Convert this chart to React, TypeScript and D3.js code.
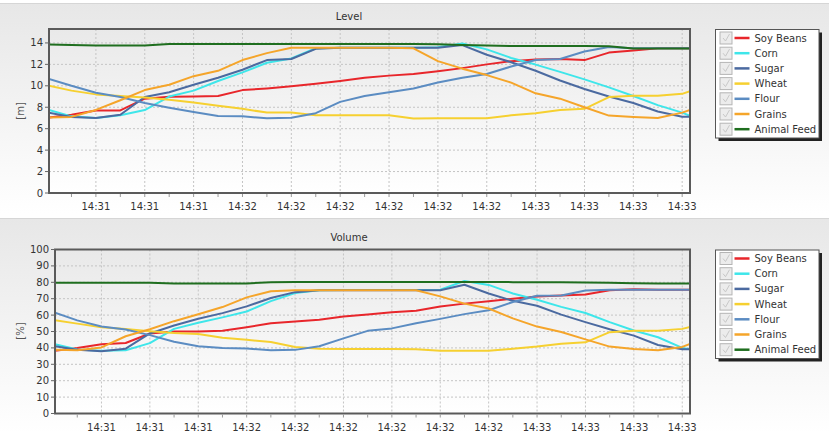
import React from 'react';
import * as d3 from 'd3';

// time samples, seconds after 14:31:00
const seconds = [20.4, 25, 30, 35, 40, 45, 50, 55, 60, 65, 70, 75, 80, 85, 90, 95, 100, 105, 110, 115, 120, 125, 130, 135, 140, 145, 150, 151.6];

const seriesNames = ['Soy Beans', 'Corn', 'Sugar', 'Wheat', 'Flour', 'Grains', 'Animal Feed'];
const seriesColors = ['#e8262b', '#3ee6ea', '#4b6aa0', '#f6d030', '#5b8cc2', '#f5a52a', '#1f6e1f'];

// Level [m]
const levelSoyBeans = [7.05, 7.3, 7.7, 7.7, 8.8, 8.98, 9.0, 9.05, 9.6, 9.75, 9.95, 10.2, 10.45, 10.75, 10.95, 11.1, 11.35, 11.65, 12.0, 12.3, 12.45, 12.5, 12.4, 13.1, 13.3, 13.5, 13.5, 13.5];
const levelCorn = [7.74, 7.15, 7.0, 7.25, 7.74, 9.0, 9.55, 10.45, 11.25, 12.15, 12.55, 13.5, 13.55, 13.55, 13.55, 13.55, 13.6, 13.95, 13.4, 12.6, 11.98, 11.3, 10.6, 9.85, 9.05, 8.2, 7.5, 7.21];
const levelSugar = [7.5, 7.1, 7.0, 7.3, 8.95, 9.4, 10.1, 10.75, 11.5, 12.4, 12.5, 13.45, 13.55, 13.55, 13.55, 13.55, 13.55, 13.8, 12.9, 12.2, 11.4, 10.5, 9.7, 9.0, 8.4, 7.6, 7.12, 7.12];
const levelWheat = [10.0, 9.55, 9.2, 9.05, 8.9, 8.7, 8.45, 8.15, 7.85, 7.5, 7.5, 7.25, 7.25, 7.25, 7.25, 6.95, 6.97, 6.97, 6.97, 7.25, 7.45, 7.75, 7.85, 8.95, 9.07, 9.07, 9.25, 9.5];
const levelFlour = [10.65, 10.0, 9.35, 8.95, 8.4, 7.95, 7.55, 7.18, 7.15, 6.97, 7.03, 7.45, 8.5, 9.05, 9.4, 9.75, 10.3, 10.75, 11.1, 11.8, 12.4, 12.5, 13.2, 13.62, 13.5, 13.5, 13.5, 13.5];
const levelGrains = [7.05, 7.1, 7.75, 8.65, 9.6, 10.1, 10.9, 11.4, 12.4, 13.05, 13.55, 13.55, 13.55, 13.55, 13.55, 13.5, 12.3, 11.6, 11.0, 10.3, 9.3, 8.8, 8.0, 7.22, 7.1, 7.0, 7.5, 7.74];
const levelAnimalFeed = [13.85, 13.8, 13.75, 13.75, 13.75, 13.9, 13.9, 13.9, 13.9, 13.9, 13.9, 13.9, 13.9, 13.9, 13.9, 13.9, 13.88, 13.8, 13.75, 13.72, 13.72, 13.72, 13.72, 13.7, 13.48, 13.48, 13.48, 13.48];

// Volume [%]
const volumeSoyBeans = [38.2, 39.9, 42.2, 43.0, 48.8, 50.0, 50.0, 50.5, 52.6, 55.0, 56.1, 57.2, 59.2, 60.4, 61.8, 62.6, 65.3, 67.0, 68.4, 70.0, 71.4, 72.0, 72.5, 75.1, 75.8, 75.5, 75.5, 75.5];
const volumeCorn = [42.3, 39.0, 38.2, 38.6, 42.9, 51.6, 55.3, 58.6, 62.2, 68.5, 73.4, 75.1, 75.3, 75.3, 75.3, 75.3, 75.5, 80.8, 78.4, 73.2, 69.4, 65.0, 61.3, 55.7, 50.6, 46.5, 40.0, 39.2];
const volumeSugar = [41.0, 38.9, 37.9, 39.5, 48.8, 53.7, 57.8, 61.2, 65.3, 70.4, 74.0, 75.1, 75.1, 75.1, 75.1, 75.1, 75.1, 78.5, 73.2, 68.7, 65.7, 60.3, 55.7, 51.4, 47.5, 41.8, 39.2, 39.2];
const volumeWheat = [56.8, 54.8, 52.6, 51.5, 50.2, 49.1, 48.5, 46.2, 44.9, 43.6, 40.5, 39.5, 39.4, 39.3, 39.3, 39.2, 38.2, 38.2, 38.2, 39.5, 40.8, 42.6, 43.4, 49.6, 50.4, 50.5, 51.6, 52.7];
const volumeFlour = [61.4, 56.8, 53.0, 51.2, 47.8, 43.8, 41.0, 39.9, 39.6, 38.5, 38.8, 41.0, 45.8, 50.4, 51.9, 55.0, 57.7, 60.6, 63.0, 68.0, 71.8, 72.0, 75.0, 75.5, 75.5, 75.5, 75.5, 75.5];
const volumeGrains = [38.8, 38.6, 40.3, 47.1, 51.4, 56.3, 60.5, 64.9, 70.8, 74.5, 75.1, 75.1, 75.1, 75.1, 75.1, 75.1, 71.4, 67.0, 64.0, 58.0, 53.0, 49.7, 45.2, 40.8, 39.4, 38.6, 40.6, 42.4];
const volumeAnimalFeed = [79.7, 79.7, 79.7, 79.7, 79.7, 79.3, 79.2, 79.2, 79.3, 80.1, 80.2, 80.2, 80.2, 80.2, 80.2, 80.2, 80.2, 80.2, 80.2, 80.1, 80.1, 80.0, 79.9, 79.8, 79.4, 79.3, 79.3, 79.3];

const levelTicks = [0, 2, 4, 6, 8, 10, 12, 14];
const volumeTicks = [0, 10, 20, 30, 40, 50, 60, 70, 80, 90, 100];

const levelSeries = [levelSoyBeans, levelCorn, levelSugar, levelWheat, levelFlour, levelGrains, levelAnimalFeed];
const volumeSeries = [volumeSoyBeans, volumeCorn, volumeSugar, volumeWheat, volumeFlour, volumeGrains, volumeAnimalFeed];

const base = new Date(2020, 0, 1, 14, 31, 0).getTime();
const times = seconds.map((s) => new Date(base + s * 1000));
const fmt = d3.timeFormat('%H:%M');
const FONT = 'DejaVu Sans, Verdana, sans-serif';

type PanelProps = {
  id: string;
  top: number;
  bottom: number;
  title: string;
  titleY: number;
  yLabel: string;
  yLabelY: number;
  plot: { x0: number; x1: number; y0: number; y1: number };
  yMax: number;
  yTicks: number[];
  series: number[][];
  legendTop: number;
};

function Panel(p: PanelProps) {
  const { x0, x1, y0, y1 } = p.plot;
  const x = d3.scaleTime().domain(d3.extent(times) as [Date, Date]).range([x0, x1]);
  const y = d3.scaleLinear().domain([0, p.yMax]).range([y1, y0]);
  const majors = x.ticks(d3.timeSecond.every(10) as any);
  const minors = x.ticks(d3.timeSecond.every(5) as any);
  const line = d3
    .line<number>()
    .x((_, i) => x(times[i]))
    .y((d) => y(d));
  const lx = 715.5;
  const lw = 103.5;
  const rowH = 15.2;
  const lh = 108.5;
  return (
    <g>
      <defs>
        <linearGradient id={p.id + 'bg'} x1="0" y1="0" x2="0" y2="1">
          <stop offset="0" stopColor="#e7e7e7" />
          <stop offset="1" stopColor="#ffffff" />
        </linearGradient>
        <linearGradient id={p.id + 'pl'} x1="0" y1="0" x2="0" y2="1">
          <stop offset="0" stopColor="#e9e9e9" />
          <stop offset="1" stopColor="#ffffff" />
        </linearGradient>
        <clipPath id={p.id + 'clip'}>
          <rect x={x0} y={y0} width={x1 - x0} height={y1 - y0} />
        </clipPath>
      </defs>
      <rect x={0} y={p.top} width={829} height={p.bottom - p.top} fill={`url(#${p.id}bg)`} />
      <line x1={0} x2={829} y1={p.top + 0.5} y2={p.top + 0.5} stroke="#d6d6d6" />
      <text x={349} y={p.titleY} textAnchor="middle" fontFamily={FONT} fontSize={10} fill="#333">
        {p.title}
      </text>
      <rect x={x0} y={y0} width={x1 - x0} height={y1 - y0} fill={`url(#${p.id}pl)`} />
      {/* grid */}
      {p.yTicks.map((t) => (
        <line key={'gy' + t} x1={x0} x2={x1} y1={y(t)} y2={y(t)} stroke="#c4c4c4" strokeDasharray="2,2" />
      ))}
      {majors.map((t, i) => (
        <line key={'gx' + i} x1={x(t)} x2={x(t)} y1={y0} y2={y1} stroke="#c4c4c4" strokeDasharray="2,2" />
      ))}
      {/* lines */}
      <g clipPath={`url(#${p.id}clip)`}>
        {p.series.map((s, i) => (
          <path key={'s' + i} d={line(s) || ''} fill="none" stroke={seriesColors[i]} strokeWidth={2} strokeLinejoin="round" />
        ))}
      </g>
      <rect x={x0} y={y0} width={x1 - x0} height={y1 - y0} fill="none" stroke="#5a5a5a" strokeWidth={2} />
      {/* y axis */}
      {p.yTicks.map((t) => (
        <g key={'yt' + t}>
          <line x1={x0 - 4} x2={x0} y1={y(t)} y2={y(t)} stroke="#666" />
          <text x={x0 - 6} y={y(t) + 3.5} textAnchor="end" fontFamily={FONT} fontSize={10} fill="#333">
            {t}
          </text>
        </g>
      ))}
      <text
        transform={`translate(24,${p.yLabelY}) rotate(-90)`}
        textAnchor="middle"
        fontFamily={FONT}
        fontSize={10}
        fill="#555"
      >
        {p.yLabel}
      </text>
      {/* x axis */}
      {minors.map((t, i) => (
        <line key={'mt' + i} x1={x(t)} x2={x(t)} y1={y1 + 1} y2={y1 + 4} stroke="#999" />
      ))}
      {majors.map((t, i) => (
        <text key={'xl' + i} x={x(t)} y={y1 + 17} textAnchor="middle" fontFamily={FONT} fontSize={10} fill="#333">
          {fmt(t)}
        </text>
      ))}
      {/* legend */}
      <rect x={lx + 3} y={p.legendTop + 3} width={lw} height={lh} fill="#222" />
      <rect x={lx} y={p.legendTop} width={lw} height={lh} fill="#fff" stroke="#555" />
      {seriesNames.map((n, i) => {
        const cy = p.legendTop + 8.5 + i * rowH;
        return (
          <g key={'lg' + i}>
            <rect x={lx + 4.5} y={cy - 6} width={12} height={12} fill="#ececec" stroke="#b5b5b5" />
            <path d={`M${lx + 7.5},${cy} L${lx + 10},${cy + 3} L${lx + 14},${cy - 4}`} fill="none" stroke="#c8c8c8" strokeWidth={1} />
            <line x1={lx + 19} x2={lx + 34} y1={cy} y2={cy} stroke={seriesColors[i]} strokeWidth={2.5} />
            <text x={lx + 39} y={cy + 3.5} fontFamily={FONT} fontSize={10} fill="#333">
              {n}
            </text>
          </g>
        );
      })}
    </g>
  );
}

export default function App() {
  return (
    <div style={{ position: 'absolute', left: 0, top: 0 }}>
      <svg width={829} height={433} style={{ display: 'block', background: '#fff' }}>
        <Panel
          id="lvl"
          top={3}
          bottom={214}
          title="Level"
          titleY={20}
          yLabel="[m]"
          yLabelY={111}
          plot={{ x0: 49, x1: 690, y0: 29, y1: 193 }}
          yMax={15.3}
          yTicks={levelTicks}
          series={levelSeries}
          legendTop={29.5}
        />
        <Panel
          id="vol"
          top={218}
          bottom={433}
          title="Volume"
          titleY={241}
          yLabel="[%]"
          yLabelY={331}
          plot={{ x0: 55, x1: 690, y0: 249.5, y1: 413.5 }}
          yMax={100}
          yTicks={volumeTicks}
          series={volumeSeries}
          legendTop={250}
        />
      </svg>
    </div>
  );
}
